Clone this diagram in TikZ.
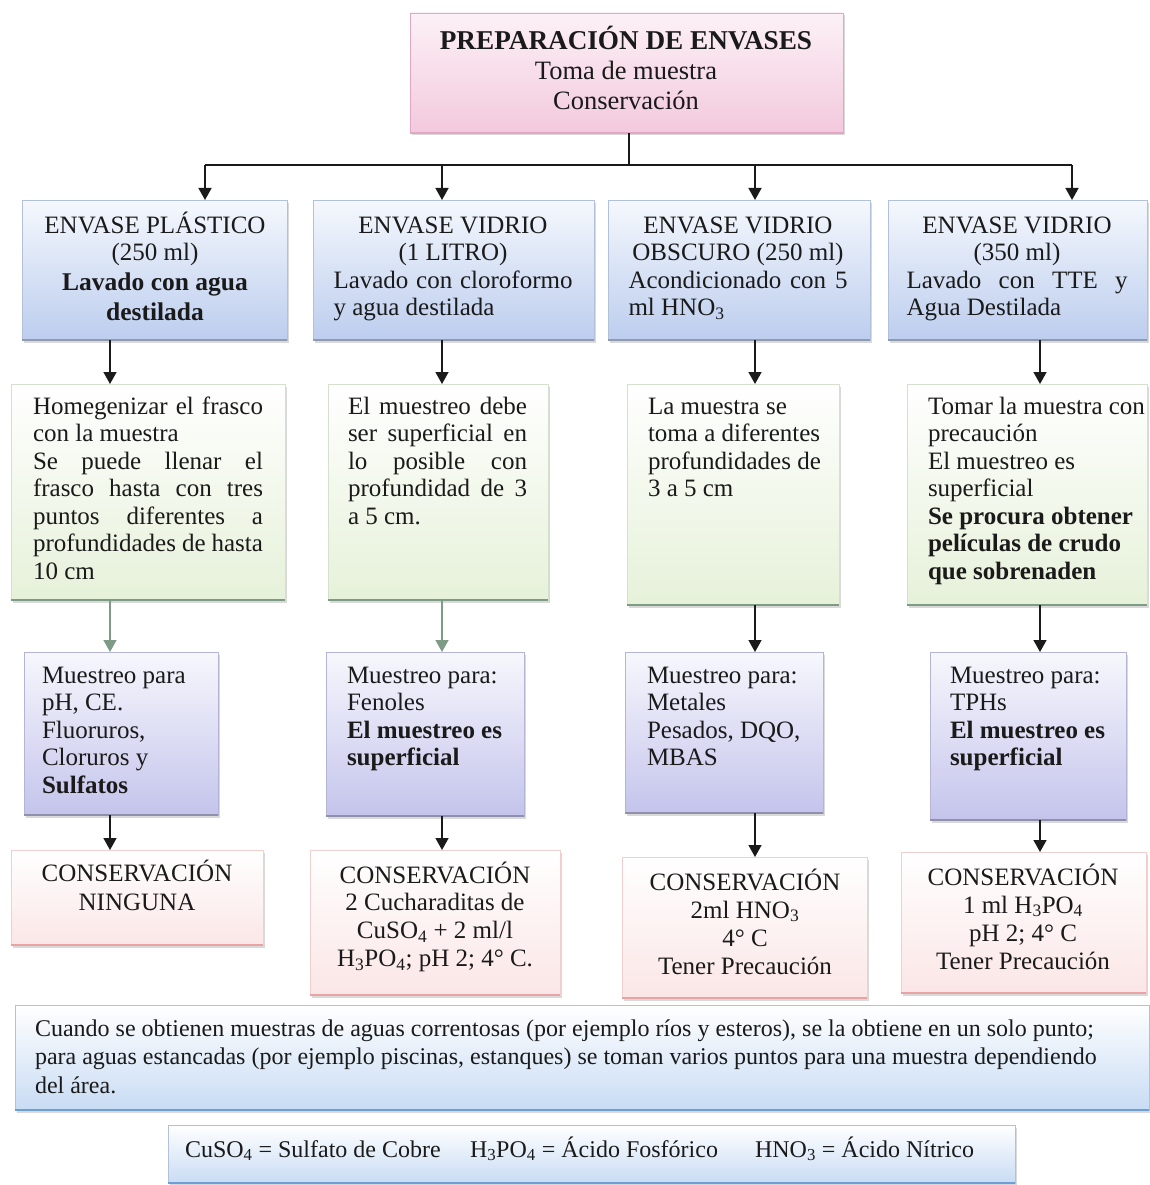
\documentclass[tikz,border=0pt]{standalone}
\usepackage{fontspec}
\setmainfont{Liberation Serif}
\usetikzlibrary{arrows.meta,shadows}
\definecolor{pkT}{HTML}{FCF1F6}
\definecolor{pkB}{HTML}{F3C9DD}
\definecolor{pkL}{HTML}{E3A6C4}
\definecolor{blT}{HTML}{F5F8FD}
\definecolor{blB}{HTML}{BCCDEE}
\definecolor{blL}{HTML}{B3C0DA}
\definecolor{grB}{HTML}{E6F1D9}
\definecolor{grL}{HTML}{D5E0CF}
\definecolor{grE}{HTML}{7D9B85}
\definecolor{lvT}{HTML}{F7F7FD}
\definecolor{lvB}{HTML}{C4C4EC}
\definecolor{lvL}{HTML}{B4B4D8}
\definecolor{rsB}{HTML}{FBE6E6}
\definecolor{rsL}{HTML}{F2CFCF}
\definecolor{rsE}{HTML}{E9A3A3}
\definecolor{ntB}{HTML}{C8DCF4}
\definecolor{ntE}{HTML}{6E9ED6}
\definecolor{ink}{HTML}{1A1A1A}
\newcommand\fst[1][23pt]{\rule{0pt}{#1}}
\newcommand\jus[2]{\makebox[#1][s]{#2}}
\newcommand\lft[2]{\makebox[#1][l]{#2}}
\begin{document}
\begin{tikzpicture}[x=1pt,y=-1pt,
  every node/.style={inner sep=0pt,outer sep=0pt,text=ink},
  box/.style={anchor=north west,line width=0.8pt,
    drop shadow={shadow xshift=1.5pt,shadow yshift=-2.5pt,opacity=0.3}},
  topbox/.style={box,draw=pkL,top color=pkT,bottom color=pkB},
  bluebox/.style={box,draw=blL,top color=blT,bottom color=blB},
  greenbox/.style={box,draw=grL,top color=white,bottom color=grB},
  lavbox/.style={box,draw=lvL,top color=lvT,bottom color=lvB},
  rosebox/.style={box,draw=rsL,top color=white,bottom color=rsB},
  notebox/.style={box,draw=blL,top color=white,bottom color=ntB},
  txt/.style={font=\fontsize{25}{27.5}\selectfont},
  ctxt/.style={txt,align=center,anchor=north},
  ltxt/.style={txt,align=left,anchor=north west},
  line/.style={draw=ink,line width=1.5pt},
  arr/.style={line,-{Triangle[width=13pt,length=12pt]}},
  garr/.style={draw=grE,line width=1.5pt,-{Triangle[width=13pt,length=12pt]}},
  gedge/.style={draw=grE,line width=2pt},
  redge/.style={draw=rsE,line width=2pt},
  nedge/.style={draw=ntE,line width=2.5pt},
  pedge/.style={draw=pkL,line width=2pt},
  bedge/.style={draw=blL!80!black,line width=1.5pt},
  vedge/.style={draw=lvL!80!black,line width=1.5pt}]
\useasboundingbox (0,0) rectangle (1149,1185);

% ---------- boxes ----------
\node[topbox,minimum width=433pt,minimum height=120pt] (top) at (410,13) {};
\node[bluebox,minimum width=265pt,minimum height=140pt] (b1) at (22,200) {};
\node[bluebox,minimum width=281pt,minimum height=140pt] (b2) at (313,200) {};
\node[bluebox,minimum width=262pt,minimum height=140pt] (b3) at (608,200) {};
\node[bluebox,minimum width=259pt,minimum height=140pt] (b4) at (888,200) {};

\node[greenbox,minimum width=274pt,minimum height=216pt] (c1) at (11,384) {};
\node[greenbox,minimum width=220pt,minimum height=216pt] (c2) at (328,384) {};
\node[greenbox,minimum width=212pt,minimum height=221pt] (c3) at (627,384) {};
\node[greenbox,minimum width=240pt,minimum height=221pt] (c4) at (907,384) {};

\node[lavbox,minimum width=194pt,minimum height=163pt] (d1) at (24,652) {};
\node[lavbox,minimum width=198pt,minimum height=164pt] (d2) at (326,652) {};
\node[lavbox,minimum width=198pt,minimum height=161pt] (d3) at (625,652) {};
\node[lavbox,minimum width=196pt,minimum height=168pt] (d4) at (930,652) {};

\node[rosebox,minimum width=252pt,minimum height=95pt] (e1) at (11,850) {};
\node[rosebox,minimum width=250pt,minimum height=145pt] (e2) at (310,850) {};
\node[rosebox,minimum width=245pt,minimum height=141pt] (e3) at (622,857) {};
\node[rosebox,minimum width=245pt,minimum height=141pt] (e4) at (901,852) {};

\node[notebox,minimum width=1134pt,minimum height=105pt] (note) at (15,1005) {};
\node[notebox,minimum width=847pt,minimum height=58pt] (leg) at (168,1125) {};

% bottom accent edges
\draw[pedge] (top.south west) -- (top.south east);
\foreach \n in {b1,b2,b3,b4} \draw[bedge] (\n.south west) -- (\n.south east);
\foreach \n in {c1,c2,c3,c4} \draw[gedge] (\n.south west) -- (\n.south east);
\foreach \n in {d1,d2,d3,d4} \draw[vedge] (\n.south west) -- (\n.south east);
\foreach \n in {e1,e2,e3,e4} \draw[redge] (\n.south west) -- (\n.south east);
\foreach \n in {note,leg} \draw[nedge] (\n.south west) -- (\n.south east);

% ---------- texts ----------
\node[align=center,anchor=north,font=\fontsize{26.5}{30}\selectfont] (ttop) at (626,25)
  {\fst[25pt]\textbf{\fontsize{27.2}{30}\selectfont PREPARACIÓN DE ENVASES}\\Toma de muestra\\Conservación};

\node[ctxt] (tb1) at (155,210) {\fst ENVASE PLÁSTICO\\(250 ml)};
\node[align=center,anchor=north,font=\fontsize{25.5}{30}\bfseries\selectfont] (tb1b) at (155,268)
  {\fst[22pt]Lavado con agua\\destilada};
\node[ctxt] (tb2) at (453,210) {\fst ENVASE VIDRIO\\(1 LITRO)\\\jus{239pt}{Lavado con cloroformo}\\\lft{239pt}{y agua destilada}};
\node[ctxt] (tb3) at (738,210) {\fst ENVASE VIDRIO\\OBSCURO (250 ml)\\\jus{219pt}{Acondicionado con 5}\\\lft{219pt}{ml HNO\textsubscript{3}}};
\node[ctxt] (tb4) at (1017,210) {\fst ENVASE VIDRIO\\(350 ml)\\\jus{221pt}{Lavado con TTE y}\\\lft{221pt}{Agua Destilada}};

\node[ltxt] (tc1) at (33,391) {\fst\jus{230pt}{Homegenizar el frasco}\\con la muestra\\
  \jus{230pt}{Se puede llenar el}\\\jus{230pt}{frasco hasta con tres}\\
  \jus{230pt}{puntos diferentes a}\\\jus{230pt}{profundidades de hasta}\\10 cm};
\node[ltxt] (tc2) at (348,391) {\fst\jus{179pt}{El muestreo debe}\\\jus{179pt}{ser superficial en}\\
  \jus{179pt}{lo posible con}\\\jus{179pt}{profundidad de 3}\\a 5 cm.};
\node[ltxt] (tc3) at (648,391) {\fst La muestra se\\toma a diferentes\\profundidades de\\3 a 5 cm};
\node[ltxt] (tc4) at (928,391) {\fst Tomar la muestra con\\precaución\\El muestreo es\\superficial\\
  \textbf{Se procura obtener}\\\textbf{películas de crudo}\\\textbf{que sobrenaden}};

\node[ltxt] (td1) at (42,660) {\fst Muestreo para\\pH, CE.\\Fluoruros,\\Cloruros y\\\textbf{Sulfatos}};
\node[ltxt] (td2) at (347,660) {\fst Muestreo para:\\Fenoles\\\textbf{El muestreo es}\\\textbf{superficial}};
\node[ltxt] (td3) at (647,660) {\fst Muestreo para:\\Metales\\Pesados, DQO,\\MBAS};
\node[ltxt] (td4) at (950,660) {\fst Muestreo para:\\TPHs\\\textbf{El muestreo es}\\\textbf{superficial}};

\node[ctxt,font=\fontsize{25}{29.5}\selectfont] (te1) at (137,858) {\fst CONSERVACIÓN\\NINGUNA};
\node[ctxt,font=\fontsize{25}{27.8}\selectfont] (te2) at (435,860) {\fst CONSERVACIÓN\\2 Cucharaditas de\\CuSO\textsubscript{4} + 2 ml/l\\H\textsubscript{3}PO\textsubscript{4}; pH 2; 4° C.};
\node[ctxt,font=\fontsize{25}{28}\selectfont] (te3) at (745,867) {\fst CONSERVACIÓN\\2ml HNO\textsubscript{3}\\4° C\\Tener Precaución};
\node[ctxt,font=\fontsize{25}{28}\selectfont] (te4) at (1023,862) {\fst CONSERVACIÓN\\1 ml H\textsubscript{3}PO\textsubscript{4}\\pH 2; 4° C\\Tener Precaución};

\node[anchor=north west,align=left,font=\fontsize{24}{28.5}\selectfont] (tnote) at (35,1014)
  {\fst[22pt]Cuando se obtienen muestras de aguas correntosas (por ejemplo ríos y esteros), se la obtiene en un solo punto;\\
   para aguas estancadas (por ejemplo piscinas, estanques) se toman varios puntos para una muestra dependiendo\\
   del área.};
\node[anchor=base west,font=\fontsize{24}{28}\selectfont] (lg1) at (185,1157) {CuSO\textsubscript{4} = Sulfato de Cobre};
\node[anchor=base west,font=\fontsize{24}{28}\selectfont] (lg2) at (470,1157) {H\textsubscript{3}PO\textsubscript{4} = Ácido Fosfórico};
\node[anchor=base west,font=\fontsize{24}{28}\selectfont] (lg3) at (755,1157) {HNO\textsubscript{3} = Ácido Nítrico};

% ---------- connectors ----------
\coordinate (hub) at (629,165);
\coordinate (h1) at (205,165);
\coordinate (h2) at (442,165);
\coordinate (h3) at (755,165);
\coordinate (h4) at (1072,165);
\draw[line] (top.south -| hub) -- (hub);
\draw[line] (h1) -- (h4);
\draw[arr] (h1) -- (h1 |- b1.north);
\draw[arr] (h2) -- (h2 |- b2.north);
\draw[arr] (h3) -- (h3 |- b3.north);
\draw[arr] (h4) -- (h4 |- b4.north);

\coordinate (k1) at (110,0);
\coordinate (k2) at (442,0);
\coordinate (k3) at (755,0);
\coordinate (k4) at (1040,0);
\draw[arr] (b1.south -| k1) -- (c1.north -| k1);
\draw[arr] (b2.south -| k2) -- (c2.north -| k2);
\draw[arr] (b3.south -| k3) -- (c3.north -| k3);
\draw[arr] (b4.south -| k4) -- (c4.north -| k4);

\draw[garr] (c1.south -| k1) -- (d1.north -| k1);
\draw[garr] (c2.south -| k2) -- (d2.north -| k2);
\draw[arr] (c3.south -| k3) -- (d3.north -| k3);
\draw[arr] (c4.south -| k4) -- (d4.north -| k4);

\draw[arr] (d1.south -| k1) -- (e1.north -| k1);
\draw[arr] (d2.south -| k2) -- (e2.north -| k2);
\draw[arr] (d3.south -| k3) -- (e3.north -| k3);
\draw[arr] (d4.south -| k4) -- (e4.north -| k4);
\end{tikzpicture}
\end{document}
